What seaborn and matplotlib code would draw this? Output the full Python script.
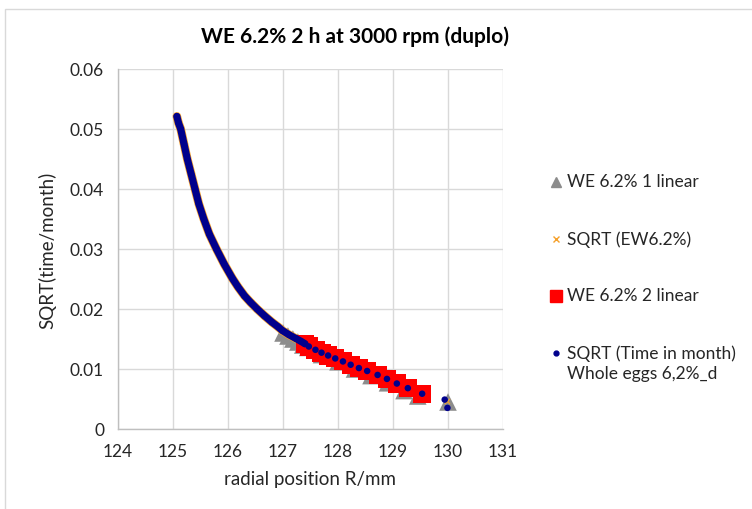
import matplotlib
matplotlib.use("Agg")
import matplotlib.pyplot as plt
from matplotlib.lines import Line2D
from matplotlib.patches import Rectangle
import seaborn as sns
import pandas as pd

# ---- data ----
title = "WE 6.2% 2 h at 3000 rpm (duplo)"
x_label = "radial position R/mm"
y_label = "SQRT(time/month)"
x_ticks = [124, 125, 126, 127, 128, 129, 130, 131]
y_ticks = [0, 0.01, 0.02, 0.03, 0.04, 0.05, 0.06]
y_tick_labels = ["0", "0.01", "0.02", "0.03", "0.04", "0.05", "0.06"]

# dense part of "SQRT (Time in month)" series (points along the thick curve)
R_dense = [125.07, 125.10, 125.14, 125.20, 125.26, 125.33, 125.40, 125.47, 125.56,
           125.66, 125.79, 125.93, 126.08, 126.18, 126.30, 126.41, 126.53, 126.66,
           126.80, 126.90, 126.99, 127.11, 127.23, 127.33, 127.40]
v_dense = [0.0521, 0.0510, 0.0500, 0.0475, 0.0450, 0.0425, 0.0400, 0.0375, 0.0350,
           0.0325, 0.0300, 0.0275, 0.0251, 0.0237, 0.0222, 0.0211, 0.0200, 0.0189,
           0.0178, 0.0171, 0.0164, 0.0157, 0.0151, 0.0146, 0.0142]

# sparse part of the same series
R_dots = [127.47, 127.59, 127.70, 127.82, 127.95, 128.09, 128.23, 128.38, 128.53,
          128.72, 128.89, 129.07, 129.27, 129.53, 129.94, 129.99]
v_dots = [0.01375, 0.01320, 0.01272, 0.01225, 0.01176, 0.01126, 0.01071, 0.01016,
          0.00967, 0.00901, 0.00835, 0.00758, 0.00681, 0.00588, 0.0049, 0.00352]

# "WE 6.2% 2 linear" (red squares)
R_sq = [127.40, 127.47, 127.59, 127.70, 127.82, 127.95, 128.09, 128.23, 128.38,
        128.53, 128.72, 128.89, 129.07, 129.27, 129.53]
v_sq = [0.0142, 0.01375, 0.01320, 0.01272, 0.01225, 0.01176, 0.01126, 0.01071,
        0.01016, 0.00967, 0.00901, 0.00835, 0.00758, 0.00681, 0.00588]

# "WE 6.2% 1 linear" (grey triangles)
R_tri = [127.00, 127.09, 127.18, 127.27, 127.36, 127.45, 127.70, 128.00, 128.30,
         128.60, 128.90, 129.20, 129.45, 130.00]
v_tri = [0.0160, 0.0155, 0.0150, 0.0145, 0.0140, 0.0136, 0.0124, 0.0112, 0.0100,
         0.0089, 0.0077, 0.0064, 0.0055, 0.0045]

# "SQRT (EW6.2%)" (small orange crosses, mostly hidden under the blue dots)
R_ew = R_dense + [127.47, 128.09, 128.72, 129.27, 129.53, 129.98]
v_ew = v_dense + [0.01375, 0.01126, 0.00901, 0.00681, 0.00588, 0.0047]

labels = ["WE 6.2% 1 linear", "SQRT (EW6.2%)", "WE 6.2% 2 linear",
          "SQRT (Time in month)\nWhole eggs 6,2%_d"]

# ---- styling ----
sns.set_style("white")
FONT = ["Lato", "DejaVu Sans"]
plt.rcParams["font.family"] = FONT

C_TRI = "#8c8c8c"
C_EW = "#f5a02a"
C_SQ = "#ff0000"
C_DOT = "#00008c"
GRID = "#d9d9d9"
TXT = "#262626"

fig = plt.figure(figsize=(7.52, 5.10), dpi=100)
ax = fig.add_axes([118 / 752, 80 / 510, 385 / 752, 360 / 510])

df_tri = pd.DataFrame({"R": R_tri, "v": v_tri})
df_ew = pd.DataFrame({"R": R_ew, "v": v_ew})
df_sq = pd.DataFrame({"R": R_sq, "v": v_sq})
df_dense = pd.DataFrame({"R": R_dense, "v": v_dense})
df_dots = pd.DataFrame({"R": R_dense + R_dots, "v": v_dense + v_dots})

sns.scatterplot(data=df_tri, x="R", y="v", marker="^", s=160, color=C_TRI,
                edgecolor="none", ax=ax, zorder=3)
sns.lineplot(data=df_dense, x="R", y="v", sort=False, color=C_EW, linewidth=6.2,
             ax=ax, zorder=4)
sns.scatterplot(data=df_ew, x="R", y="v", marker="x", s=14, color=C_EW,
                linewidth=0.8, ax=ax, zorder=4)
sns.scatterplot(data=df_sq, x="R", y="v", marker="s", s=170, color=C_SQ,
                edgecolor="none", ax=ax, zorder=5)
sns.lineplot(data=df_dense, x="R", y="v", sort=False, color=C_DOT, linewidth=5.2,
             ax=ax, zorder=6)
sns.scatterplot(data=df_dots, x="R", y="v", marker="o", s=22, color=C_DOT,
                edgecolor="none", ax=ax, zorder=7)

ax.set_xlim(124, 131)
ax.set_ylim(0, 0.06)
ax.set_xticks(x_ticks)
ax.set_xticklabels([str(t) for t in x_ticks])
ax.set_yticks(y_ticks)
ax.set_yticklabels(y_tick_labels)
ax.grid(True, color=GRID, linewidth=1.0)
ax.set_axisbelow(True)
for side in ["top", "right"]:
    ax.spines[side].set_visible(False)
for side in ["left", "bottom"]:
    ax.spines[side].set_color("#bfbfbf")
    ax.spines[side].set_linewidth(1.0)
ax.tick_params(axis="both", length=0, labelsize=12.5, colors=TXT, pad=10)
ax.set_xlabel(x_label, fontsize=13.5, color=TXT, labelpad=8)
ax.set_ylabel(y_label, fontsize=13.5, color=TXT, labelpad=10)

fig.text(355 / 752, 1 - 37 / 510, title, ha="center", va="center",
         fontsize=15, fontweight="bold", color="black")

# legend drawn by hand so the marker sits on the first text line
handles = [
    dict(marker="^", color=C_TRI, markersize=7),
    dict(marker="x", color=C_EW, markersize=4, markeredgewidth=1),
    dict(marker="s", color=C_SQ, markersize=8),
    dict(marker="o", color=C_DOT, markersize=3.5),
]
row_y = [183, 240, 297, 354]
for h, lab, yy in zip(handles, labels, row_y):
    fig.add_artist(Line2D([556 / 752], [1 - yy / 510], transform=fig.transFigure,
                          linestyle="none", **h))
    fig.text(567 / 752, 1 - (yy - 9) / 510, lab, ha="left", va="top",
             fontsize=12.5, color=TXT, linespacing=1.35)

fig.patches.append(Rectangle((5 / 752, -0.05), 1.0, 500 / 510 + 0.05,
                             transform=fig.transFigure, fill=False,
                             edgecolor=GRID, linewidth=1.0))

fig.savefig("out.png", dpi=100)
